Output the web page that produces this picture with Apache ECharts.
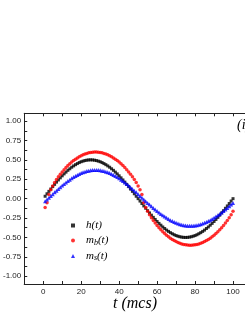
<!DOCTYPE html>
<html><head><meta charset="utf-8">
<script src="https://cdn.jsdelivr.net/npm/echarts@6/dist/echarts.min.js"></script>
<style>html,body{margin:0;padding:0;overflow:hidden;background:#fff;width:245px;height:317px}#c{width:252px;height:317px}</style>
</head><body><div id="c"></div>
<script>
const tValues = [];
for (let i = 1; i <= 100; i++) tValues.push(i);
const hValues = [0.031,0.063,0.094,0.124,0.155,0.184,0.213,0.241,0.268,0.294,0.319,0.342,0.365,0.385,0.405,0.422,0.438,0.452,0.465,0.476,0.484,0.491,0.496,0.499,0.500,
0.499,0.496,0.491,0.484,0.476,0.465,0.452,0.438,0.422,0.405,0.385,0.365,0.342,0.319,0.294,0.268,0.241,0.213,0.184,0.155,0.124,0.094,0.063,0.031,0.000,
-0.031,-0.063,-0.094,-0.124,-0.155,-0.184,-0.213,-0.241,-0.268,-0.294,-0.319,-0.342,-0.365,-0.385,-0.405,-0.422,-0.438,-0.452,-0.465,-0.476,-0.484,-0.491,-0.496,-0.499,-0.500,
-0.499,-0.496,-0.491,-0.484,-0.476,-0.465,-0.452,-0.438,-0.422,-0.405,-0.385,-0.365,-0.342,-0.319,-0.294,-0.268,-0.241,-0.213,-0.184,-0.155,-0.124,-0.094,-0.063,-0.031,0.000];
const mbValues = [-0.115,-0.053,0.053,0.115,0.164,0.207,0.246,0.281,0.314,0.345,0.374,0.401,0.426,0.449,0.471,0.491,0.509,0.525,0.540,0.553,0.565,0.575,0.583,0.590,0.595,
0.598,0.600,0.600,0.598,0.595,0.590,0.583,0.575,0.565,0.553,0.540,0.525,0.509,0.491,0.471,0.449,0.426,0.401,0.374,0.345,0.314,0.281,0.246,0.207,0.164,
0.115,0.053,-0.053,-0.115,-0.164,-0.207,-0.246,-0.281,-0.314,-0.345,-0.374,-0.401,-0.426,-0.449,-0.471,-0.491,-0.509,-0.525,-0.540,-0.553,-0.565,-0.575,-0.583,-0.590,-0.595,
-0.598,-0.600,-0.600,-0.598,-0.595,-0.590,-0.583,-0.575,-0.565,-0.553,-0.540,-0.525,-0.509,-0.491,-0.471,-0.449,-0.426,-0.401,-0.374,-0.345,-0.314,-0.281,-0.246,-0.207,-0.164];
const msValues = [-0.033,-0.011,0.012,0.035,0.058,0.081,0.103,0.125,0.147,0.168,0.188,0.208,0.227,0.245,0.262,0.278,0.292,0.306,0.318,0.330,0.340,0.348,0.355,0.361,0.365,
0.368,0.370,0.370,0.368,0.365,0.361,0.355,0.348,0.340,0.330,0.318,0.306,0.292,0.278,0.262,0.245,0.227,0.208,0.188,0.168,0.147,0.125,0.103,0.081,0.058,
0.035,0.012,-0.011,-0.033,-0.055,-0.076,-0.098,-0.119,-0.139,-0.159,-0.178,-0.197,-0.215,-0.231,-0.247,-0.263,-0.277,-0.289,-0.301,-0.312,-0.321,-0.329,-0.336,-0.342,-0.346,
-0.348,-0.350,-0.350,-0.348,-0.346,-0.342,-0.336,-0.329,-0.321,-0.312,-0.301,-0.289,-0.277,-0.263,-0.247,-0.231,-0.215,-0.197,-0.178,-0.159,-0.139,-0.119,-0.098,-0.076,-0.055];
const xTickLabels = [0,20,40,60,80,100];
const xTicks = [0,10,20,30,40,50,60,70,80,90,100,110];
const yTickLabels = [-1,-0.75,-0.5,-0.25,0,0.25,0.5,0.75,1];
const yTicks = [-1,-0.875,-0.75,-0.625,-0.5,-0.375,-0.25,-0.125,0,0.125,0.25,0.375,0.5,0.625,0.75,0.875,1];
const seriesNames = ['h(t)','m_b(t)','m_s(t)'];

const pair = v => tValues.map((t,i)=>[t,v[i]]);
const axisCol = '#222';
const chart = echarts.init(document.getElementById('c'), null, {renderer:'canvas'});
const serif = 'Liberation Serif';
chart.setOption({
  animation:false,
  grid:{left:21.5,right:0,top:113.3,bottom:33},
  xAxis:[{
    type:'value',min:-10,max:110,position:'bottom',
    axisLine:{show:true,onZero:false,lineStyle:{color:axisCol,width:1}},
    axisTick:{show:true,inside:true,length:3,customValues:xTicks,lineStyle:{color:axisCol}},
    axisLabel:{customValues:xTickLabels,fontFamily:'Liberation Sans',fontSize:8,color:'#222',margin:4},
    splitLine:{show:false}
  },{
    type:'value',min:-10,max:110,position:'top',
    axisLine:{show:true,onZero:false,lineStyle:{color:axisCol,width:1}},
    axisTick:{show:true,inside:true,length:3,customValues:xTicks,lineStyle:{color:axisCol}},
    axisLabel:{show:false},splitLine:{show:false}
  }],
  yAxis:{
    type:'value',min:-1.1,max:1.1,
    axisLine:{show:true,onZero:false,lineStyle:{color:axisCol,width:1}},
    axisTick:{show:true,inside:true,length:3,customValues:yTicks,lineStyle:{color:axisCol}},
    axisLabel:{customValues:yTickLabels,fontFamily:'Liberation Sans',fontSize:8,color:'#222',margin:3,
      formatter:v=>v.toFixed(2)},
    splitLine:{show:false}
  },
  legend:{
    orient:'vertical',left:66,top:215,itemWidth:4,itemHeight:4,itemGap:4,
    data:[{name:seriesNames[0],icon:'rect'},{name:seriesNames[1],icon:'circle'},{name:seriesNames[2],icon:'triangle'}],
    formatter:function(n){
      if(n==='h(t)') return '{i|h(t)}';
      if(n==='m_b(t)') return '{i|m}{s|b}{i|(t)}';
      return '{i|m}{s|s}{i|(t)}';
    },
    textStyle:{padding:[0,0,0,6],rich:{
      i:{fontFamily:serif,fontStyle:'italic',fontSize:11,color:'#000',lineHeight:12},
      s:{fontFamily:serif,fontStyle:'italic',fontSize:8,color:'#000',lineHeight:12,verticalAlign:'bottom',padding:[3,0,0,0]}
    }}
  },
  graphic:[
    {type:'text',left:113,top:296,style:{text:'t (mcs)',font:'italic 16px "Liberation Serif"',fill:'#000'}},
    {type:'text',left:237,top:118,style:{text:'(i)',font:'italic 14px "Liberation Serif"',fill:'#000'}}
  ],
  series:[
    {name:seriesNames[0],type:'scatter',data:pair(hValues),symbol:'rect',symbolSize:3,itemStyle:{color:'#000'}},
    {name:seriesNames[1],type:'scatter',data:pair(mbValues),symbol:'circle',symbolSize:3.5,itemStyle:{color:'#ff0000'}},
    {name:seriesNames[2],type:'scatter',data:pair(msValues),symbol:'triangle',symbolSize:4,itemStyle:{color:'#0000ff'}}
  ]
});
</script></body></html>
